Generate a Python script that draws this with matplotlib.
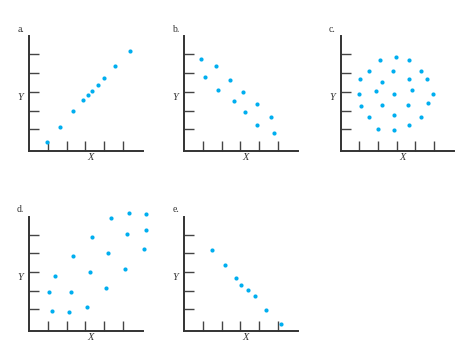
import matplotlib
matplotlib.use("Agg")
import matplotlib.pyplot as plt

# Data (in tick units; ticks at 1..5)
a_x = [0.95, 1.66, 2.36, 2.875, 3.14, 3.36, 3.66, 4.02, 4.57, 5.375]
a_y = [0.32, 1.125, 1.96, 2.54, 2.82, 3.04, 3.39, 3.75, 4.39, 5.16]

b_x = [0.89, 1.68, 1.09, 2.46, 1.80, 3.16, 2.66, 3.875, 3.25, 4.61, 3.875, 4.82]
b_y = [4.73, 4.36, 3.80, 3.66, 3.09, 3.00, 2.50, 2.375, 1.93, 1.64, 1.21, 0.79]

c_x = [2.09, 2.96, 3.66, 1.52, 2.80, 4.30, 1.04, 2.23, 3.66, 4.59, 0.96, 1.875,
       2.875, 3.80, 4.95, 1.09, 2.23, 3.59, 4.66, 1.52, 2.875, 4.30, 2.02, 2.875, 3.66]
c_y = [4.68, 4.875, 4.68, 4.11, 4.11, 4.11, 3.68, 3.54, 3.68, 3.68, 2.89, 3.04,
       2.89, 3.11, 2.89, 2.25, 2.32, 2.32, 2.39, 1.68, 1.75, 1.68, 1.04, 0.96, 1.25]

d_x = [4.36, 5.32, 6.23, 3.34, 5.23, 6.23, 2.34, 4.23, 6.11, 1.36, 3.23, 5.11,
       1.07, 2.23, 4.11, 1.23, 2.14, 3.11]
d_y = [5.91, 6.16, 6.09, 4.875, 5.05, 5.23, 3.84, 4.04, 4.21, 2.80, 2.98, 3.18,
       1.91, 1.95, 2.14, 0.93, 0.86, 1.11]

e_x = [1.46, 2.16, 2.75, 3.05, 3.43, 3.80, 4.36, 5.16]
e_y = [4.18, 3.39, 2.68, 2.32, 2.05, 1.70, 0.98, 0.20]

panel_labels = ["a.", "b.", "c.", "d.", "e."]
ticks = [1, 2, 3, 4, 5]

W, H = 460, 364
fig = plt.figure(figsize=(W / 100, H / 100), dpi=100)

# origin (px from left, px from top)
origins = [(29.3, 150.8), (184.3, 150.8), (340.7, 150.8), (29.3, 331.0), (184.3, 331.0)]
aw, ah = 113.5, 114.5
datasets = [(a_x, a_y), (b_x, b_y), (c_x, c_y), (d_x, d_y), (e_x, e_y)]
color = "#00AEEF"
serif = ["Liberation Serif", "DejaVu Serif"]

for (ox, oy), (xs, ys), lab in zip(origins, datasets, panel_labels):
    ax = fig.add_axes([ox / W, (H - oy) / H, aw / W, ah / H])
    ax.set_xlim(0, 6.07)
    ax.set_ylim(-0.15, 5.97)
    ax.scatter(xs, ys, s=9, color=color, linewidths=0, clip_on=False, zorder=3)
    for side in ("top", "right"):
        ax.spines[side].set_visible(False)
    for side in ("left", "bottom"):
        ax.spines[side].set_linewidth(1.4)
        ax.spines[side].set_color("#333333")
    ax.set_xticks(ticks)
    ax.set_yticks(ticks)
    ax.set_xticklabels([])
    ax.set_yticklabels([])
    ax.tick_params(direction="in", length=7, width=1.0, color="#444444")
    ax.set_facecolor("none")
    # labels
    fig.text((ox - 8.6) / W, (H - (oy - 121.5)) / H, lab, ha="center", va="center",
             fontsize=7, family=serif, color="#333333")
    fig.text((ox - 8.6) / W, (H - (oy - 53.4)) / H, "Y", ha="center", va="center",
             fontsize=7.5, family=serif, style="italic", color="#333333")
    fig.text((ox + 61.4) / W, (H - (oy + 6.6)) / H, "X", ha="center", va="center",
             fontsize=7.5, family=serif, style="italic", color="#333333")

fig.savefig("out.png", dpi=100)
